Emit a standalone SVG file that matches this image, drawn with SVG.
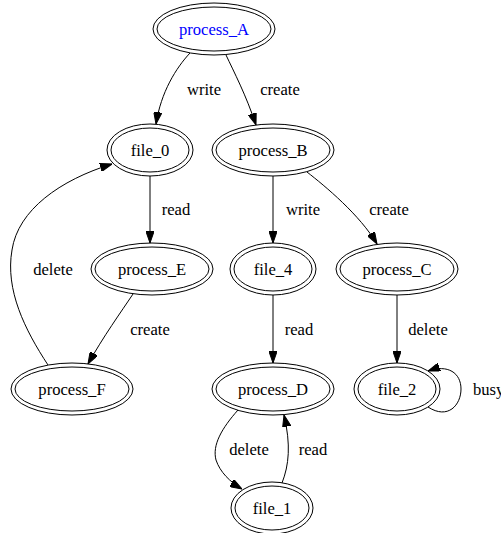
<svg xmlns="http://www.w3.org/2000/svg" width="501" height="533" viewBox="0 0 501 533">
<style>
text{font-family:"Liberation Serif","Times New Roman",serif;font-size:16.6px;fill:#000;}
.n text{text-anchor:middle;}
.n ellipse{fill:none;stroke:#000;stroke-width:1;}
#edges path{fill:none;stroke:#000;stroke-width:1;marker-end:url(#arr);}
#edges text{text-anchor:middle;}
</style>
<defs>
<marker id="arr" viewBox="0 0 12 8.4" refX="12" refY="4.2" markerWidth="12" markerHeight="8.4" markerUnits="userSpaceOnUse" orient="auto">
<path d="M0,0 L12,4.2 L0,8.4 z" fill="#000" stroke="#000" stroke-width="1"/>
</marker>
</defs>
<rect width="501" height="533" fill="#fff"/>
<g id="edges">
<path d="M190,53 C176,68 161,92 156,124"/>
<text x="204" y="95">write</text>
<path d="M226,55 C234,72 246,95 256,125"/>
<text x="280" y="95">create</text>
<path d="M150,176 L150,243"/>
<text x="176" y="215">read</text>
<path d="M133,294 C121,312 103,337 88,364"/>
<text x="150" y="335">create</text>
<path d="M48,365 C25,330 5,290 12,250 C18,210 60,180 112,164"/>
<text x="53" y="275">delete</text>
<path d="M273,176 L273,243"/>
<text x="303" y="215">write</text>
<path d="M307,172 C325,186 360,215 377,244"/>
<text x="389" y="215">create</text>
<path d="M273,295 L273,363"/>
<text x="299" y="335">read</text>
<path d="M397,295 L397,363"/>
<text x="428" y="335">delete</text>
<path d="M428,407 C448,420 461,405 461,389 C461,373 448,364 428,371"/>
<text x="473" y="395" style="text-anchor:start">busy</text>
<path d="M238,410 C222,428 212,445 216,460 C220,472 230,482 242,489"/>
<text x="249" y="455">delete</text>
<path d="M282,483 C289,465 291,445 284,415"/>
<text x="313" y="455">read</text>
</g>
<g id="process_A" class="n"><ellipse cx="214" cy="29" rx="57" ry="22"/><ellipse cx="214" cy="29" rx="61" ry="26"/><text x="214" y="34.5" style="fill:#0000ff">process_A</text></g>
<g id="file_0" class="n"><ellipse cx="150" cy="150" rx="39" ry="22"/><ellipse cx="150" cy="150" rx="43" ry="26"/><text x="150" y="155.5">file_0</text></g>
<g id="process_B" class="n"><ellipse cx="273" cy="150" rx="57" ry="22"/><ellipse cx="273" cy="150" rx="61" ry="26"/><text x="273" y="155.5">process_B</text></g>
<g id="process_E" class="n"><ellipse cx="152" cy="269" rx="57" ry="22"/><ellipse cx="152" cy="269" rx="61" ry="26"/><text x="152" y="274.5">process_E</text></g>
<g id="file_4" class="n"><ellipse cx="273" cy="269" rx="39" ry="22"/><ellipse cx="273" cy="269" rx="43" ry="26"/><text x="273" y="274.5">file_4</text></g>
<g id="process_C" class="n"><ellipse cx="397" cy="269" rx="57" ry="22"/><ellipse cx="397" cy="269" rx="61" ry="26"/><text x="397" y="274.5">process_C</text></g>
<g id="process_F" class="n"><ellipse cx="72" cy="389" rx="57" ry="22"/><ellipse cx="72" cy="389" rx="61" ry="26"/><text x="72" y="394.5">process_F</text></g>
<g id="process_D" class="n"><ellipse cx="273" cy="389" rx="57" ry="22"/><ellipse cx="273" cy="389" rx="61" ry="26"/><text x="273" y="394.5">process_D</text></g>
<g id="file_2" class="n"><ellipse cx="397" cy="389" rx="39" ry="22"/><ellipse cx="397" cy="389" rx="43" ry="26"/><text x="397" y="394.5">file_2</text></g>
<g id="file_1" class="n"><ellipse cx="272" cy="508" rx="37" ry="22"/><ellipse cx="272" cy="508" rx="41" ry="26"/><text x="272" y="513.5">file_1</text></g>
</svg>
